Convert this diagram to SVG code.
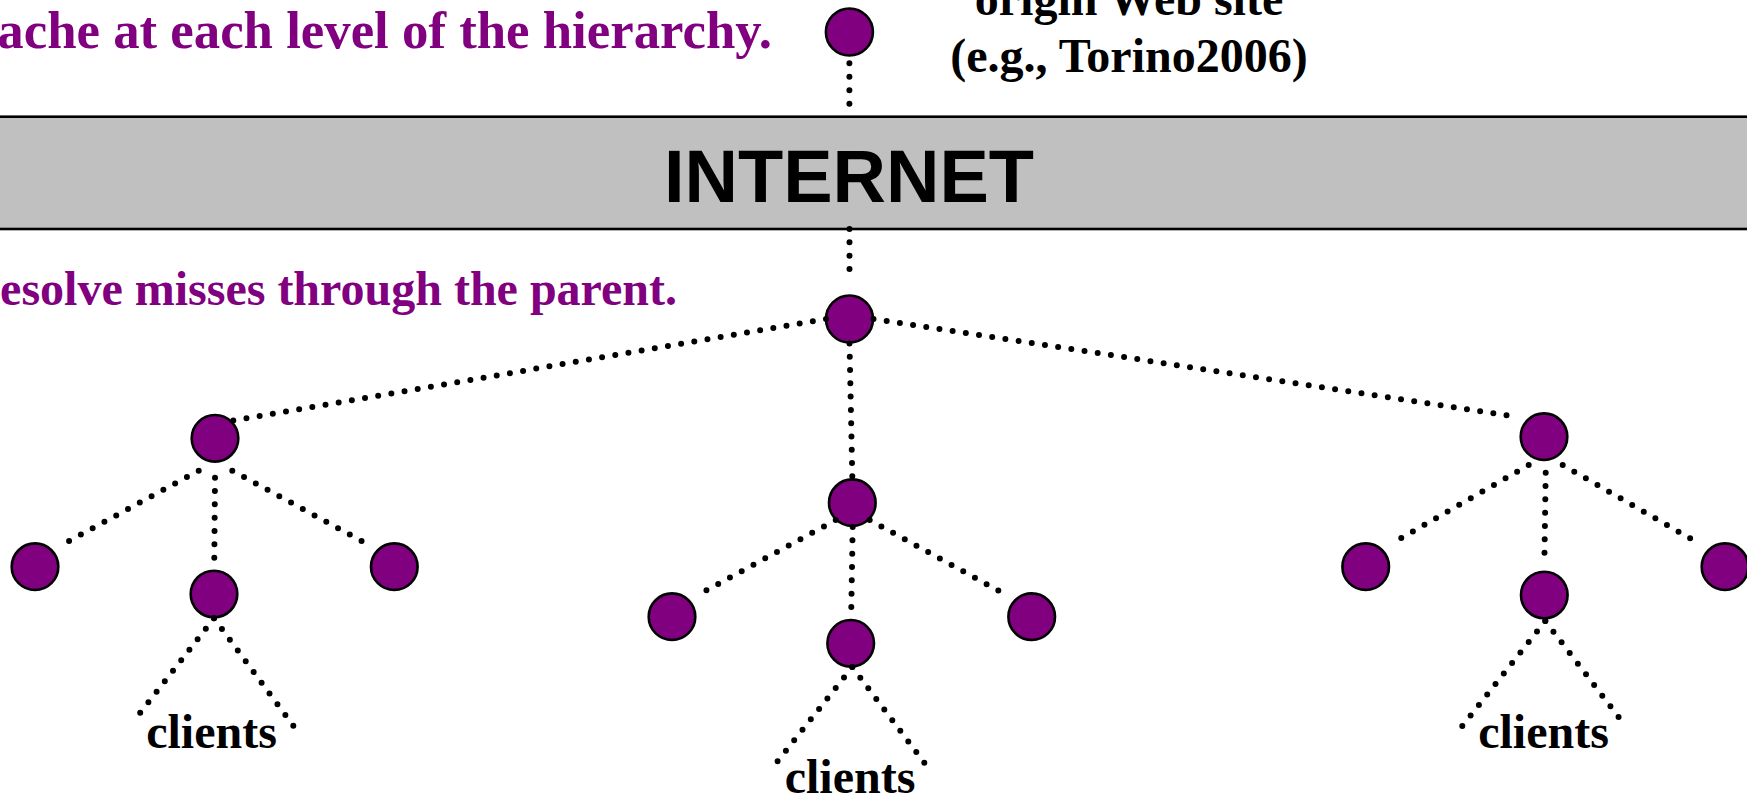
<svg xmlns="http://www.w3.org/2000/svg" width="1747" height="798" viewBox="0 0 1747 798">
<style>
.node{fill:#800080;stroke:#000;stroke-width:2.6}
.dot{stroke:#000;stroke-width:6;stroke-linecap:round;stroke-dasharray:0 1;fill:none}
.serif{font-family:"Liberation Serif","Times New Roman",serif;font-weight:bold}
.note{fill:#800080}
.lbl{fill:#000;text-anchor:middle;font-size:48px}
.band{fill:#c0c0c0;stroke:#000;stroke-width:2.6}
.net{font-family:"Liberation Sans",Arial,sans-serif;font-weight:bold;font-size:74px;text-anchor:middle;fill:#000}
</style>
<rect width="1747" height="798" fill="#fff"/>
<g id="texts">
<text class="serif note" x="772" y="48.3" font-size="52.8" text-anchor="end">ache at each level of the hierarchy.</text>
<text class="serif note" x="677" y="305" font-size="48" text-anchor="end">esolve misses through the parent.</text>
<text class="serif lbl" x="1129" y="15">origin Web site</text>
<text class="serif lbl" x="1129" y="71.7">(e.g., Torino2006)</text>
</g>
<g id="internet">
<rect class="band" x="-10" y="116.7" width="1767" height="112.3"/>
<text class="net" x="849" y="201.5">INTERNET</text>
</g>
<g id="origin"><circle class="node" cx="849.4" cy="32" r="23.5"/></g>
<g id="root"><circle class="node" cx="849.5" cy="319" r="23.5"/></g>
<g id="left-top"><circle class="node" cx="215" cy="438.3" r="23.3"/></g>
<g id="left-left"><circle class="node" cx="35" cy="566.7" r="23.3"/></g>
<g id="left-mid"><circle class="node" cx="214" cy="594" r="23.3"/></g>
<g id="left-right"><circle class="node" cx="394.3" cy="566.7" r="23.3"/></g>
<g id="center-top"><circle class="node" cx="852.3" cy="502.7" r="23.3"/></g>
<g id="center-left"><circle class="node" cx="672" cy="616.7" r="23.3"/></g>
<g id="center-mid"><circle class="node" cx="850.7" cy="643.3" r="23.3"/></g>
<g id="center-right"><circle class="node" cx="1031.7" cy="616.7" r="23.3"/></g>
<g id="right-top"><circle class="node" cx="1544" cy="436.7" r="23.3"/></g>
<g id="right-left"><circle class="node" cx="1365.7" cy="566.7" r="23.3"/></g>
<g id="right-mid"><circle class="node" cx="1544.3" cy="595" r="23.3"/></g>
<g id="right-right"><circle class="node" cx="1725" cy="566.7" r="23.3"/></g>
<g id="clients-left"><text class="serif lbl" x="211.5" y="747.7">clients</text></g>
<g id="clients-center"><text class="serif lbl" x="850" y="793">clients</text></g>
<g id="clients-right"><text class="serif lbl" x="1543.5" y="747.7">clients</text></g>
<g id="connectors">
<line class="dot" x1="849.4" y1="63.3" x2="849.4" y2="117.3" pathLength="4"/>
<line class="dot" x1="849.5" y1="229" x2="849.5" y2="282.3" pathLength="4"/>
<line class="dot" x1="826" y1="319" x2="233.3" y2="420.5" pathLength="45"/>
<line class="dot" x1="873.5" y1="319" x2="1519.7" y2="417.3" pathLength="49"/>
<line class="dot" x1="849.5" y1="343.5" x2="852.3" y2="476.3" pathLength="10"/>
<line class="dot" x1="198.7" y1="470.7" x2="57.3" y2="547.3" pathLength="12"/>
<line class="dot" x1="215" y1="477.7" x2="214.3" y2="557.7" pathLength="6"/>
<line class="dot" x1="232.3" y1="470.7" x2="373.3" y2="547.3" pathLength="12"/>
<line class="dot" x1="214" y1="618.3" x2="132" y2="723.3" pathLength="10"/>
<line class="dot" x1="214" y1="618.3" x2="293.3" y2="725.7" pathLength="10"/>
<line class="dot" x1="835.7" y1="520" x2="694.7" y2="596.7" pathLength="12"/>
<line class="dot" x1="852.7" y1="527" x2="851.3" y2="607" pathLength="6"/>
<line class="dot" x1="869.7" y1="520" x2="1010" y2="597" pathLength="12"/>
<line class="dot" x1="852.3" y1="667" x2="769.3" y2="771.7" pathLength="10"/>
<line class="dot" x1="852.3" y1="667" x2="932.3" y2="773.3" pathLength="10"/>
<line class="dot" x1="1528.7" y1="465" x2="1389.7" y2="544.7" pathLength="12"/>
<line class="dot" x1="1545.7" y1="472.7" x2="1544.3" y2="566" pathLength="7"/>
<line class="dot" x1="1562.7" y1="465" x2="1701.7" y2="545" pathLength="12"/>
<line class="dot" x1="1545.3" y1="621" x2="1462.3" y2="726" pathLength="10"/>
<line class="dot" x1="1545.3" y1="621" x2="1626.7" y2="727.7" pathLength="10"/>
</g>
</svg>
